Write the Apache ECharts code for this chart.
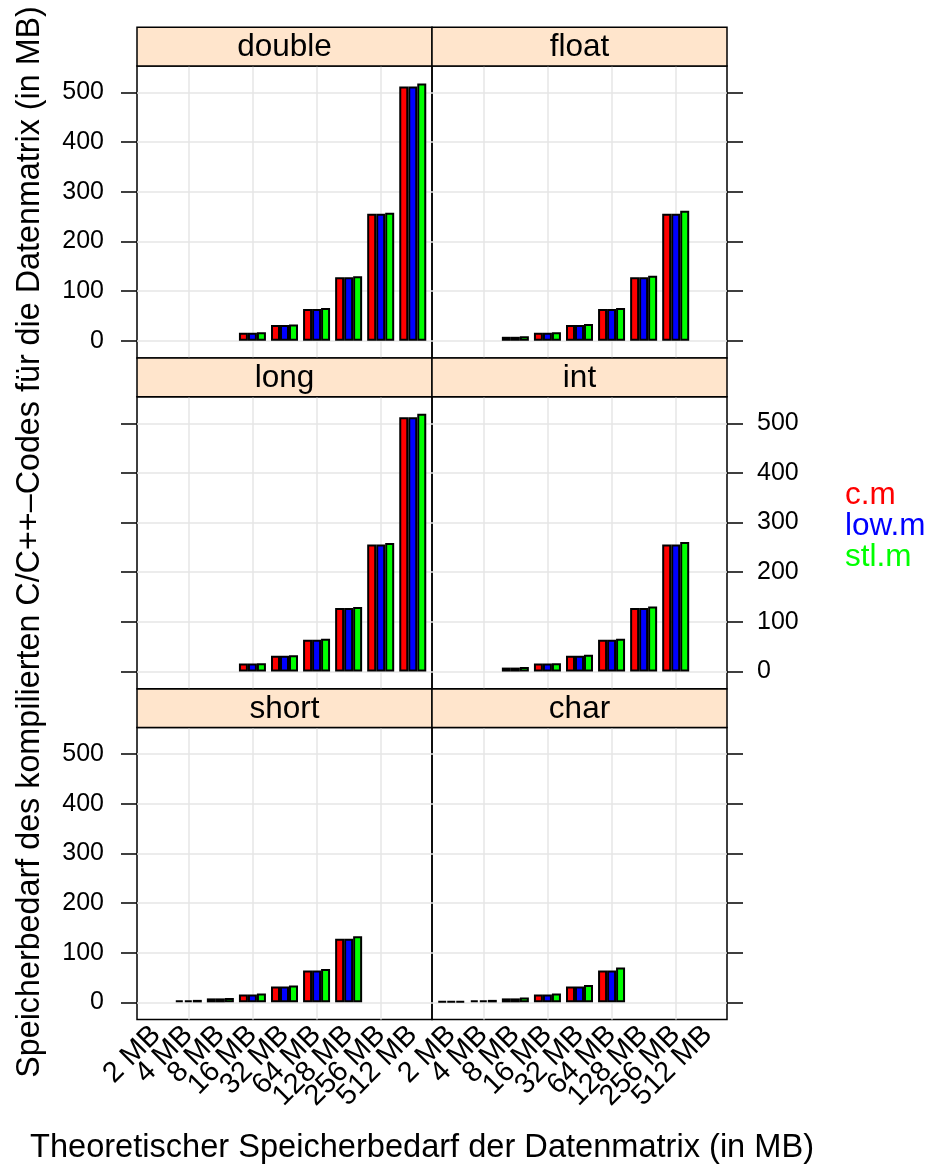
<!DOCTYPE html>
<html><head><meta charset="utf-8">
<script src="https://cdn.jsdelivr.net/npm/echarts@6/dist/echarts.min.js"></script>
<style>html,body{margin:0;padding:0;background:#fff}#c{width:930px;height:1165px}</style>
</head><body><div id="c"></div>
<script>
const categories = ['2 MB','4 MB','8 MB','16 MB','32 MB','64 MB','128 MB','256 MB','512 MB'];
const seriesNames = ['c.m','low.m','stl.m'];
const seriesColors = ['#ff0000','#0000ff','#00ff00'];
const panelNames = ['double','float','long','int','short','char'];
const yTicks = [0,100,200,300,400,500];
const xGridTicks = [1,3,5,7];
const xLabelsOdd = [1,3,5,7];
const xLabelsEven = [0,2,4,6,8];

const doubleC   = [null,null,null,16,32,64,128,256,512];
const doubleLow = [null,null,null,16,32,64,128,256,512];
const doubleStl = [null,null,null,17,33,66,130,258,518];
const floatC    = [null,null,8,16,32,64,128,256,null];
const floatLow  = [null,null,8,16,32,64,128,256,null];
const floatStl  = [null,null,9,17,34,66,131,262,null];
const longC     = [null,null,null,16,32,64,128,256,512];
const longLow   = [null,null,null,16,32,64,128,256,512];
const longStl   = [null,null,null,17,33,66,130,259,519];
const intC      = [null,null,8,16,32,64,128,256,null];
const intLow    = [null,null,8,16,32,64,128,256,null];
const intStl    = [null,null,9,17,34,66,131,261,null];
const shortC    = [null,4,8,16,32,64,128,null,null];
const shortLow  = [null,4,8,16,32,64,128,null,null];
const shortStl  = [null,5,9,18,34,67,133,null,null];
const charC     = [2,4,8,16,32,64,null,null,null];
const charLow   = [2,4,8,16,32,64,null,null,null];
const charStl   = [2,5,10,18,35,70,null,null,null];

const panelData = [
  [doubleC, doubleLow, doubleStl],
  [floatC, floatLow, floatStl],
  [longC, longLow, longStl],
  [intC, intLow, intStl],
  [shortC, shortLow, shortStl],
  [charC, charLow, charStl]
];

const FONT = 'Liberation Sans, Arial, Helvetica, sans-serif';
const colLeft = [137, 432];
const panelW = 295;
const stripH = 38.6;
const panelH = 292;
const rowStripTop = [27.3, 358.1, 688.9];
const X_MIN = -0.6, X_MAX = 8.6, Y_MIN = -34.5, Y_MAX = 553.5;

const grids = [], xAxes = [], yAxes = [], series = [], graphics = [];
const gridColor = '#e6e6e6';

function xLabelStyle(show, values) {
  return {
    show: show, customValues: values, rotate: 45, margin: 11,
    showMinLabel: true, showMaxLabel: true, hideOverlap: false,
    fontSize: 29, fontFamily: FONT, color: '#000',
    formatter: v => categories[Math.round(v)]
  };
}

panelNames.forEach((name, p) => {
  const row = Math.floor(p / 2), col = p % 2;
  const left = colLeft[col];
  const stripTop = rowStripTop[row];
  const top = stripTop + stripH;
  grids.push({left: left, top: top, width: panelW, height: panelH, show: true,
    borderColor: '#000', borderWidth: 1.5, backgroundColor: 'transparent',
    containLabel: false, outerBoundsMode: 'none'});
  xAxes.push({
    type: 'value', gridIndex: p, min: X_MIN, max: X_MAX, position: 'bottom',
    axisLine: {show: false, onZero: false},
    axisTick: {show: false, customValues: xGridTicks},
    splitLine: {show: true, lineStyle: {color: gridColor, width: 1.5}},
    axisLabel: xLabelStyle(row === 2, xLabelsOdd)
  });
  const showLabels = (row !== 1) ? (col === 0) : (col === 1);
  yAxes.push({
    type: 'value', gridIndex: p, min: Y_MIN, max: Y_MAX,
    position: col === 0 ? 'left' : 'right',
    axisLine: {show: false, onZero: false},
    axisTick: {show: true, inside: false, length: 16, customValues: yTicks, lineStyle: {color: '#000', width: 1.5}},
    splitLine: {show: true, lineStyle: {color: gridColor, width: 1.5}},
    axisLabel: {show: showLabels, customValues: yTicks, margin: col === 0 ? 33 : 30,
      showMinLabel: true, showMaxLabel: true,
      fontSize: 25, fontFamily: FONT, color: '#000'}
  });
  panelData[p].forEach((arr, s) => {
    const data = [];
    arr.forEach((v, i) => { if (v !== null) data.push([i, v]); });
    series.push({
      type: 'bar', name: seriesNames[s], xAxisIndex: p, yAxisIndex: p,
      barWidth: 9, barGap: '0%',
      itemStyle: {color: seriesColors[s], borderColor: '#000', borderWidth: 2},
      data: data, silent: true
    });
  });
  graphics.push({
    type: 'rect', shape: {x: left, y: stripTop, width: panelW, height: stripH},
    style: {fill: '#ffe5cc', stroke: '#000', lineWidth: 1.5}, z: 10
  });
  graphics.push({
    type: 'text', x: left + panelW / 2, y: stripTop + stripH / 2 + 1,
    style: {text: name, fill: '#000', font: '31.5px ' + FONT, textAlign: 'center', textVerticalAlign: 'middle'}, z: 11
  });
});

// overlay grids for the bottom row: carry the even-indexed category labels
[0, 1].forEach(col => {
  const gi = grids.length;
  grids.push({left: colLeft[col], top: rowStripTop[2] + stripH, width: panelW, height: panelH, show: false,
    containLabel: false, outerBoundsMode: 'none'});
  xAxes.push({
    type: 'value', gridIndex: gi, min: X_MIN, max: X_MAX, position: 'bottom',
    axisLine: {show: false, onZero: false}, axisTick: {show: false}, splitLine: {show: false},
    axisLabel: xLabelStyle(true, xLabelsEven)
  });
  yAxes.push({type: 'value', gridIndex: gi, min: Y_MIN, max: Y_MAX, show: false});
});

seriesNames.forEach((n, i) => {
  graphics.push({
    type: 'text', x: 845, y: 495 + i * 31,
    style: {text: n, fill: seriesColors[i], font: '31.5px ' + FONT, textAlign: 'left', textVerticalAlign: 'middle'}, z: 11
  });
});

graphics.push({
  type: 'text', x: 422, y: 1148,
  style: {text: 'Theoretischer Speicherbedarf der Datenmatrix (in MB)', fill: '#000', font: '32.6px ' + FONT,
    textAlign: 'center', textVerticalAlign: 'middle'}, z: 11
});
graphics.push({
  type: 'text', x: 30, y: 542, rotation: Math.PI / 2,
  style: {text: 'Speicherbedarf des kompilierten C/C++\u2013Codes f\u00fcr die Datenmatrix (in MB)', fill: '#000', font: '32.3px ' + FONT,
    textAlign: 'center', textVerticalAlign: 'middle'}, z: 11
});

const chart = echarts.init(document.getElementById('c'), null, {renderer: 'canvas'});
chart.setOption({
  animation: false,
  backgroundColor: '#fff',
  grid: grids, xAxis: xAxes, yAxis: yAxes, series: series,
  graphic: graphics
});
</script></body></html>
